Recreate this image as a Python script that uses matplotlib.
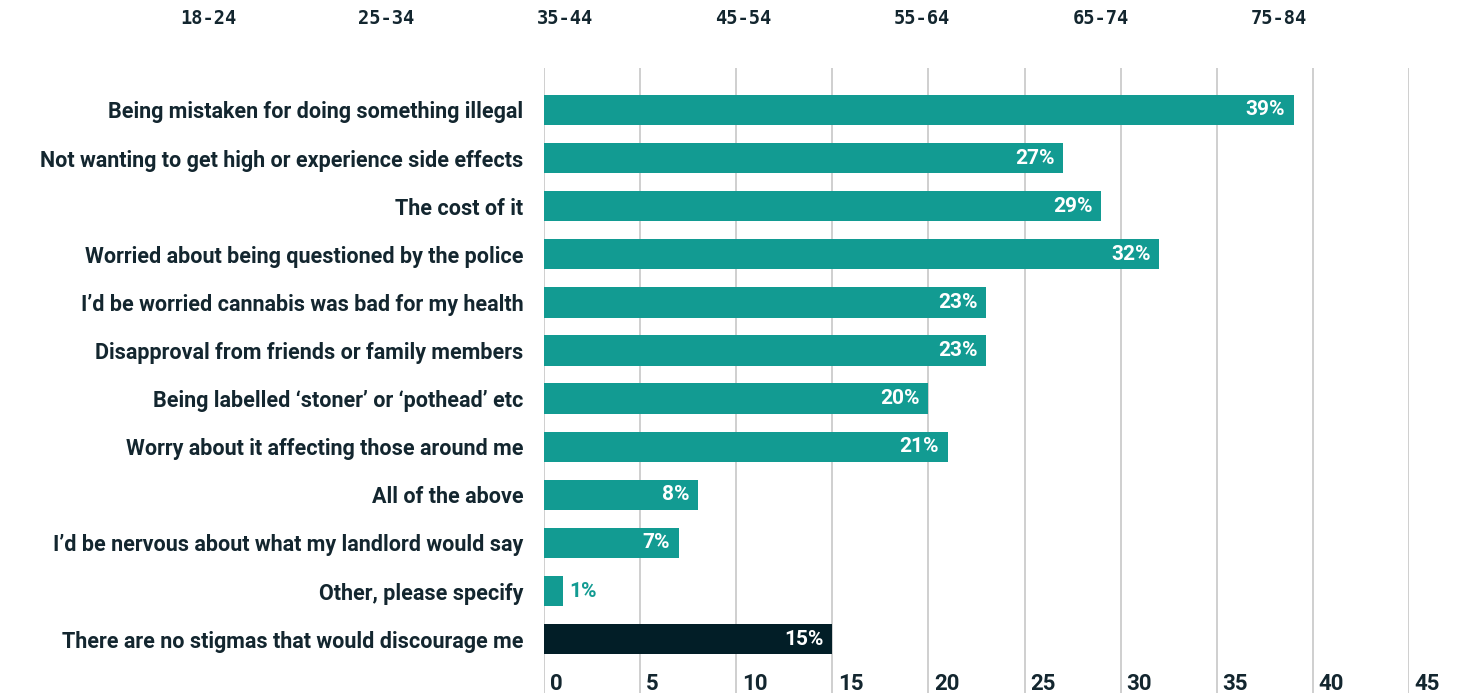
import matplotlib
matplotlib.use("Agg")
import matplotlib.pyplot as plt
import matplotlib.transforms as mtransforms

# survey answers, top to bottom
reasons = [
    "Being mistaken for doing something illegal",
    "Not wanting to get high or experience side effects",
    "The cost of it",
    "Worried about being questioned by the police",
    "I\u2019d be worried cannabis was bad for my health",
    "Disapproval from friends or family members",
    "Being labelled \u2018stoner\u2019 or \u2018pothead\u2019 etc",
    "Worry about it affecting those around me",
    "All of the above",
    "I\u2019d be nervous about what my landlord would say",
    "Other, please specify",
    "There are no stigmas that would discourage me",
]
percent = [39, 27, 29, 32, 23, 23, 20, 21, 8, 7, 1, 15]
age_groups = ["18-24", "25-34", "35-44", "45-54", "55-64", "65-74", "75-84"]
x_ticks = [0, 5, 10, 15, 20, 25, 30, 35, 40, 45]

TEAL = "#129b92"
DARK = "#021e27"
TEXT = "#13262f"
GRID = "#cccccc"

plt.rcParams["font.family"] = ["Roboto", "DejaVu Sans"]

fig = plt.figure(figsize=(14.61, 6.93), dpi=100)
ax = fig.add_axes([544 / 1461, 0, 865 / 1461, 625 / 693])

rows = list(range(len(reasons)))
colors = [DARK if r.startswith("There are no") else TEAL for r in reasons]
bars = ax.barh(rows, percent, height=0.63, color=colors, zorder=2)

ax.set_xlim(0, 45)
ax.set_ylim(12.12, -0.873)

xa = mtransforms.blended_transform_factory(ax.transData, ax.transAxes)
for x in x_ticks:
    ax.axvline(x, color=GRID, lw=1.3, zorder=1)
    ax.text(x + 0.3, 0.004, str(x), transform=xa, ha="left", va="baseline",
            fontsize=16, fontweight="bold", color=TEXT, clip_on=False)

for spine in ax.spines.values():
    spine.set_visible(False)
ax.set_xticks([])
ax.set_yticks(rows)
ax.set_yticklabels(reasons, fontsize=15.5, fontweight="bold", color=TEXT)
ax.tick_params(axis="y", length=0, pad=15)

# value labels at the bar ends; short bars get theirs just outside
for bar, val in zip(bars, percent):
    yc = bar.get_y() + bar.get_height() / 2
    if val >= 4:
        ax.text(bar.get_width() - 0.45, yc, f"{val}%", ha="right", va="center",
                fontsize=15, fontweight="bold", color="white", zorder=3)
    else:
        ax.text(bar.get_width() + 0.3, yc, f"{val}%", ha="left", va="center",
                fontsize=15, fontweight="bold", color=TEAL, zorder=3)

# age group selector along the top
for i, age in enumerate(age_groups):
    fig.text((208 + i * 178.5) / 1461, 1 - 19 / 693, age, ha="center", va="center",
             fontsize=13.5, fontweight="bold", color=TEXT, family=["DejaVu Sans Mono", "DejaVu Sans"])

fig.savefig("out.png", dpi=100)
